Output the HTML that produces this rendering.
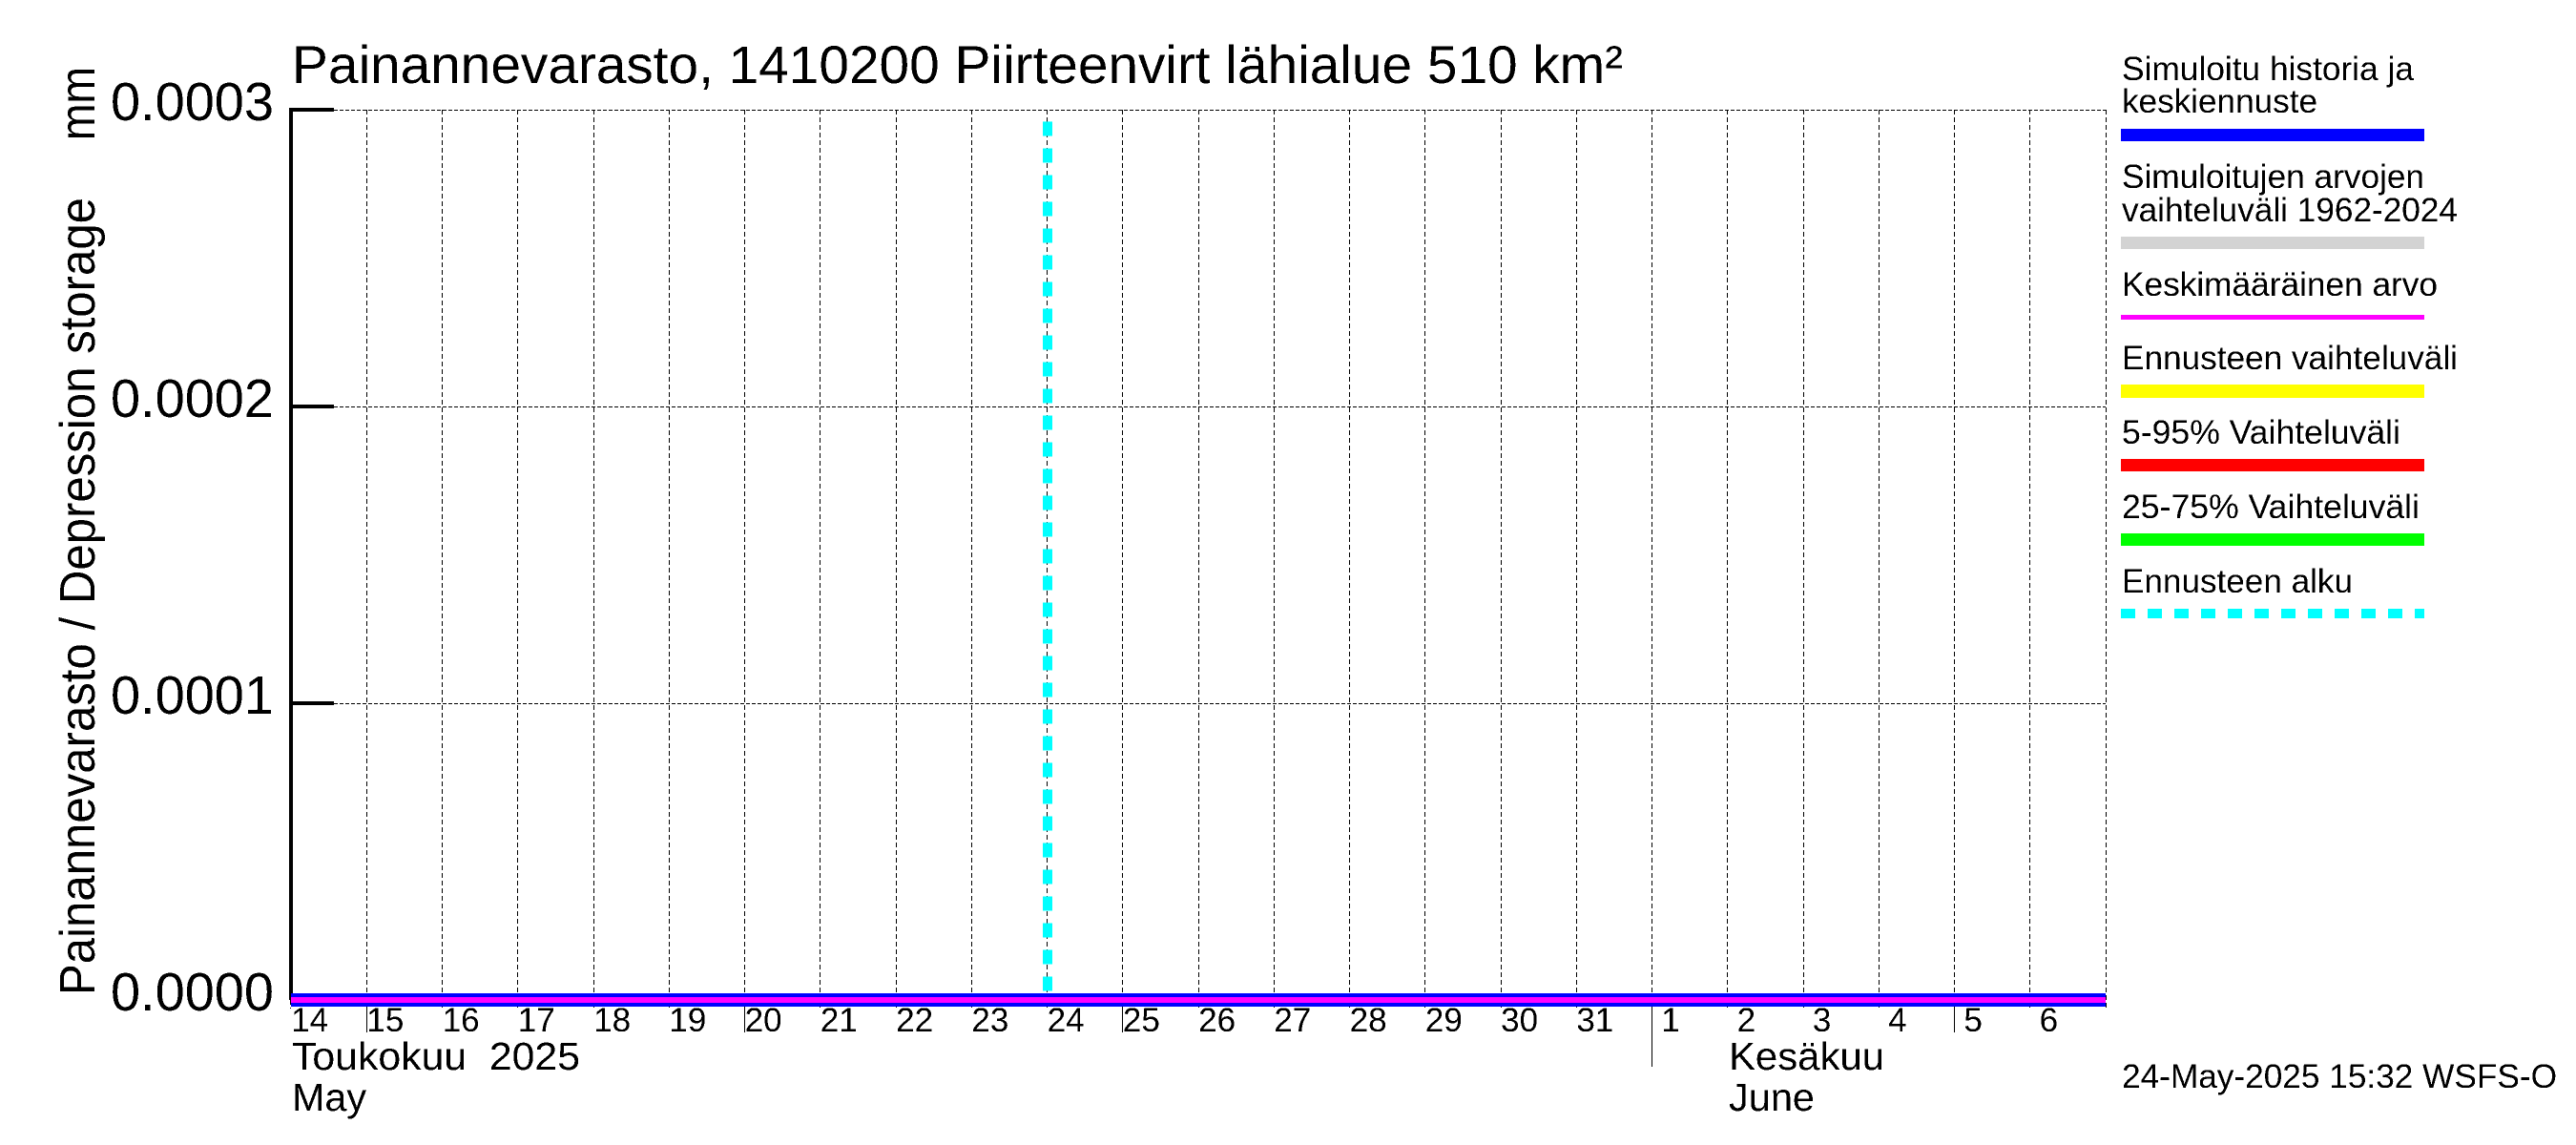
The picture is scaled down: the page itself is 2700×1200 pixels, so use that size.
<!DOCTYPE html>
<html lang="fi">
<head>
<meta charset="utf-8">
<title>Painannevarasto, 1410200 Piirteenvirt lähialue</title>
<style>
html,body{margin:0;padding:0;background:#fff;}
svg{display:block;}
text{font-family:"Liberation Sans",sans-serif;fill:#000;filter:url(#crisp-text);}
</style>
</head>
<body>
<svg id="chart" xmlns="http://www.w3.org/2000/svg" width="2700" height="1200" viewBox="0 0 2700 1200">
  <defs>
    <filter id="crisp-text" x="-5%" y="-30%" width="110%" height="160%" color-interpolation-filters="sRGB">
      <feComponentTransfer>
        <feFuncA type="discrete" tableValues="0 1"/>
      </feComponentTransfer>
    </filter>
  </defs>
  <rect x="0" y="0" width="2700" height="1200" fill="#fff"/>
  <g id="grid"></g>
  <g id="series"></g>
  <g id="axes"></g>

  <text x="306" y="87" font-size="56" textLength="1395" lengthAdjust="spacingAndGlyphs">Painannevarasto, 1410200 Piirteenvirt lähialue 510 km²</text>

  <text transform="translate(99,1043) rotate(-90)" font-size="52" textLength="836" lengthAdjust="spacingAndGlyphs">Painannevarasto / Depression storage</text>
  <text transform="translate(99,147) rotate(-90)" font-size="52" textLength="77" lengthAdjust="spacingAndGlyphs">mm</text>

  <text x="306" y="1121" font-size="41" textLength="302" lengthAdjust="spacingAndGlyphs" xml:space="preserve">Toukokuu  2025</text>
  <text x="306" y="1164" font-size="41" textLength="78" lengthAdjust="spacingAndGlyphs">May</text>
  <text x="1812" y="1121" font-size="41" textLength="163" lengthAdjust="spacingAndGlyphs">Kesäkuu</text>
  <text x="1812" y="1164" font-size="41" textLength="90" lengthAdjust="spacingAndGlyphs">June</text>

  <text x="2224" y="1140" font-size="35" textLength="456" lengthAdjust="spacingAndGlyphs">24-May-2025 15:32 WSFS-O</text>

  <g>
    <g>
      <text x="2224" y="84" font-size="35" textLength="306" lengthAdjust="spacingAndGlyphs">Simuloitu historia ja</text>
      <text x="2224" y="118" font-size="35" textLength="205" lengthAdjust="spacingAndGlyphs">keskiennuste</text>
      <rect x="2223" y="135" width="318" height="13" fill="#0000ff"/>
    </g>
    <g>
      <text x="2224" y="197" font-size="35" textLength="317" lengthAdjust="spacingAndGlyphs">Simuloitujen arvojen</text>
      <text x="2224" y="232" font-size="35" textLength="352" lengthAdjust="spacingAndGlyphs">vaihteluväli 1962-2024</text>
      <rect x="2223" y="248" width="318" height="13" fill="#d3d3d3"/>
    </g>
    <g>
      <text x="2224" y="310" font-size="35" textLength="331" lengthAdjust="spacingAndGlyphs">Keskimääräinen arvo</text>
      <rect x="2223" y="330" width="318" height="5" fill="#ff00ff"/>
    </g>
    <g>
      <text x="2224" y="387" font-size="35" textLength="352" lengthAdjust="spacingAndGlyphs">Ennusteen vaihteluväli</text>
      <rect x="2223" y="403" width="318" height="14" fill="#ffff00"/>
    </g>
    <g>
      <text x="2224" y="465" font-size="35" textLength="292" lengthAdjust="spacingAndGlyphs">5-95% Vaihteluväli</text>
      <rect x="2223" y="481" width="318" height="13" fill="#ff0000"/>
    </g>
    <g>
      <text x="2224" y="543" font-size="35" textLength="312" lengthAdjust="spacingAndGlyphs">25-75% Vaihteluväli</text>
      <rect x="2223" y="559" width="318" height="13" fill="#00ff00"/>
    </g>
    <g>
      <text x="2224" y="621" font-size="35" textLength="242" lengthAdjust="spacingAndGlyphs">Ennusteen alku</text>
      <line x1="2223" y1="643" x2="2541" y2="643" stroke="#00ffff" stroke-width="10" stroke-dasharray="15 13"/>
    </g>
  </g>
</svg>
<script>
// Chart data
const dayLabels = ["14","15","16","17","18","19","20","21","22","23","24","25","26","27","28","29","30","31","1","2","3","4","5","6"];
const yTickValues = [0, 0.0001, 0.0002, 0.0003];
const yTickLabels = ["0.0000","0.0001","0.0002","0.0003"];
const mediumTickDays = ["15","20","25","5"];
const monthStartDay = "1";
const simulatedRangeValues = [0,0,0,0,0,0,0,0,0,0,0,0,0,0,0,0,0,0,0,0,0,0,0,0,0];
const forecastRangeValues = [0,0,0,0,0,0,0,0,0,0,0,0,0,0,0];
const range595Values = [0,0,0,0,0,0,0,0,0,0,0,0,0,0,0];
const range2575Values = [0,0,0,0,0,0,0,0,0,0,0,0,0,0,0];
const simulatedHistoryValues = [0,0,0,0,0,0,0,0,0,0,0,0,0,0,0,0,0,0,0,0,0,0,0,0,0];
const meanValues = [0,0,0,0,0,0,0,0,0,0,0,0,0,0,0,0,0,0,0,0,0,0,0,0,0];
const forecastStartIndex = 10;
const forecastStartSpan = [0, 0.000296];

// Axis functions
const plotLeft = 305, plotRight = 2207, plotTop = 115, plotBottom = 1048;
const dayCount = 24, yMax = 0.0003;
function xAt(i) { return plotLeft + (plotRight - plotLeft) * i / dayCount; }
function yAt(v) { return plotBottom - (plotBottom - plotTop) * v / yMax; }

const NS = "http://www.w3.org/2000/svg";
const gridLayer = document.getElementById("grid");
const seriesLayer = document.getElementById("series");
const axesLayer = document.getElementById("axes");

function makeLine(x1, y1, x2, y2, stroke, width, dash) {
  const l = document.createElementNS(NS, "line");
  l.setAttribute("x1", x1);
  l.setAttribute("y1", y1);
  l.setAttribute("x2", x2);
  l.setAttribute("y2", y2);
  l.setAttribute("stroke", stroke);
  l.setAttribute("stroke-width", width);
  if (dash) l.setAttribute("stroke-dasharray", dash);
  return l;
}

// Horizontal grid lines
yTickValues.forEach(function (v, k) {
  if (v === 0) return;
  const g = makeLine(350, Math.round(yAt(v)) + 0.5, plotRight, Math.round(yAt(v)) + 0.5, "#000", 1, "4 2");
  
  
  gridLayer.appendChild(g);
});

// Vertical grid lines and their ticks below the band
dayLabels.forEach(function (d, i) {
  if (i === 0) return;
  const px = Math.floor(xAt(i)) + 0.5;
  const g = makeLine(px, plotTop, px, 1057, "#000", 1, "5 3");
  
  
  gridLayer.appendChild(g);
  if (mediumTickDays.indexOf(d) >= 0 || d === monthStartDay) {
    const bottom = d === monthStartDay ? 1118 : 1082;
    const t = makeLine(px, 1048, px, bottom, "#000", 1);
    
    
    gridLayer.appendChild(t);
  }
});
const rightEdge = makeLine(plotRight + 0.5, plotTop, plotRight + 0.5, 1057, "#000", 1, "5 3");


gridLayer.appendChild(rightEdge);
const firstTick = makeLine(plotLeft - 0.5, 1048, plotLeft - 0.5, 1057, "#000", 1, "5 3");


gridLayer.appendChild(firstTick);

// Y axis sits beneath the series band
const yAxisLine = makeLine(305, 113, 305, 1048, "#000", 4);


gridLayer.appendChild(yAxisLine);

// Series
function makeSeries(values, startIndex, color, width) {
  const p = document.createElementNS(NS, "polyline");
  const pts = values.map(function (v, i) { return xAt(i + startIndex) + "," + yAt(v); });
  p.setAttribute("points", pts.join(" "));
  p.setAttribute("fill", "none");
  p.setAttribute("stroke", color);
  p.setAttribute("stroke-width", width);
  return p;
}

const simRange = makeSeries(simulatedRangeValues, 0, "#d3d3d3", 13);


seriesLayer.appendChild(simRange);

const fcRange = makeSeries(forecastRangeValues, forecastStartIndex, "#ffff00", 12);


seriesLayer.appendChild(fcRange);

const r595 = makeSeries(range595Values, forecastStartIndex, "#ff0000", 10);


seriesLayer.appendChild(r595);

const r2575 = makeSeries(range2575Values, forecastStartIndex, "#00ff00", 8);


seriesLayer.appendChild(r2575);

const fsLine = makeLine(xAt(forecastStartIndex) + 0.5, yAt(forecastStartSpan[1]), xAt(forecastStartIndex) + 0.5, yAt(forecastStartSpan[0]), "#00ffff", 10, "15 13");


seriesLayer.appendChild(fsLine);

const hist = makeSeries(simulatedHistoryValues, 0, "#0000ff", 14);


seriesLayer.appendChild(hist);

const mean = makeSeries(meanValues, 0, "#ff00ff", 6);


seriesLayer.appendChild(mean);

// Axes
yTickValues.forEach(function (v, k) {
  if (v !== 0) {
    const t = makeLine(305, yAt(v), 350, yAt(v), "#000", 4);
    
    
    axesLayer.appendChild(t);
  }
  const lab = document.createElementNS(NS, "text");
  lab.setAttribute("x", 116);
  lab.setAttribute("y", yAt(v) + 11);
  lab.setAttribute("font-size", 57);
  lab.setAttribute("textLength", 171);
  lab.setAttribute("lengthAdjust", "spacingAndGlyphs");
  lab.textContent = yTickLabels[k];
  
  
  axesLayer.appendChild(lab);
});

dayLabels.forEach(function (d, i) {
  const lab = document.createElementNS(NS, "text");
  lab.setAttribute("x", xAt(i) + 19.6);
  lab.setAttribute("y", 1081);
  lab.setAttribute("font-size", 35);
  lab.setAttribute("text-anchor", "middle");
  lab.textContent = d;
  
  
  axesLayer.appendChild(lab);
});
</script>
</body>
</html>
